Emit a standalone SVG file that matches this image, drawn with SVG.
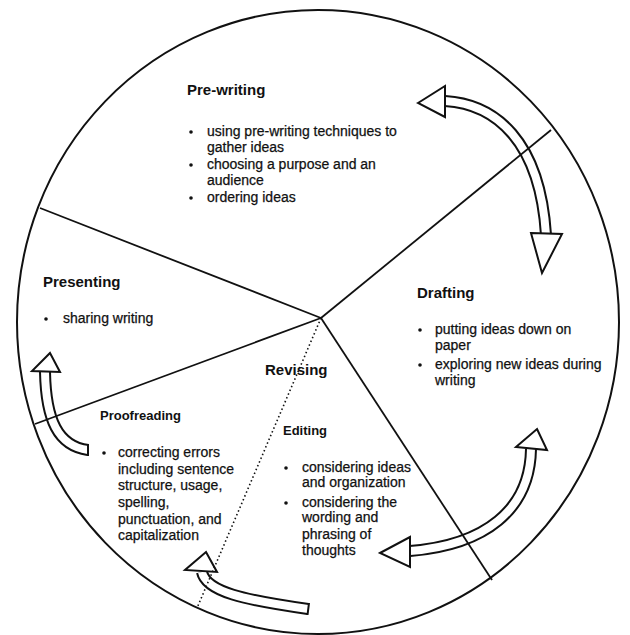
<svg xmlns="http://www.w3.org/2000/svg" width="630" height="635" viewBox="0 0 630 635">
  <style>
    .rim { fill: none; stroke: #111; stroke-width: 2; }
    .div { fill: none; stroke: #111; stroke-width: 1.8; }
    .dots { fill: none; stroke: #111; stroke-width: 1.6; stroke-dasharray: 1.5 2.6; }
    .shaft-out { fill: none; stroke: #111; stroke-width: 12; }
    .shaft-in { fill: none; stroke: #fff; stroke-width: 8; }
    .head { fill: #fff; stroke: #111; stroke-width: 2; stroke-linejoin: miter; }
    .cap { stroke: #111; stroke-width: 2; }
    .h1 { font-family: "Liberation Sans", Arial, sans-serif; font-weight: bold; font-size: 15px; fill: #111; }
    .h2 { font-family: "Liberation Sans", Arial, sans-serif; font-weight: bold; font-size: 13px; fill: #111; }
    .tx { font-family: "Liberation Sans", Arial, sans-serif; font-size: 14px; fill: #111; stroke: #111; stroke-width: 0.25; }
    .dot { fill: #111; }
  </style>
  <rect width="630" height="635" fill="#fff"/>

  <!-- arrows between the stages, drawn under the wheel lines -->
  <g id="connectors">
    <!-- pre-writing <-> drafting -->
    <path class="shaft-out" d="M 445 101 C 495 104, 540 140, 546 235"/>
    <path class="shaft-in" d="M 445 101 C 495 104, 540 140, 546 235"/>
    <polygon class="head" points="418,103 445,86 445,117"/>
    <polygon class="head" points="531,233 562,234 542,273"/>

    <!-- drafting <-> editing -->
    <path class="shaft-out" d="M 531 449 C 530 510, 485 545, 410 551"/>
    <path class="shaft-in" d="M 531 449 C 530 510, 485 545, 410 551"/>
    <polygon class="head" points="537,429 547,450 516,447"/>
    <polygon class="head" points="380,553 410,537 410,567"/>

    <!-- revising -> proofreading -->
    <path class="shaft-out" d="M 202 572 C 206 592, 245 600, 308 609"/>
    <path class="shaft-in" d="M 202 572 C 206 592, 245 600, 308 609"/>
    <line class="cap" x1="309" y1="603" x2="307.5" y2="615"/>
    <polygon class="head" points="206,552 217,572 185,570"/>

    <!-- proofreading -> presenting -->
    <path class="shaft-out" d="M 45 372 C 46 420, 58 446, 88 450"/>
    <path class="shaft-in" d="M 45 372 C 46 420, 58 446, 88 450"/>
    <line class="cap" x1="88" y1="444" x2="88" y2="456"/>
    <polygon class="head" points="50,353 60,372 32,371"/>
  </g>

  <!-- the wheel: rim and the dividers between stages -->
  <g id="wheel">
    <ellipse class="rim" cx="318" cy="322" rx="301" ry="312"/>
    <line class="div" x1="321" y1="318" x2="40" y2="208"/>
    <line class="div" x1="321" y1="318" x2="551" y2="130"/>
    <line class="div" x1="321" y1="318" x2="35" y2="424"/>
    <line class="div" x1="321" y1="318" x2="492" y2="580"/>
    <line class="dots" x1="321" y1="318" x2="197" y2="608"/>
  </g>

  <g id="prewriting">
    <text class="h1" x="187" y="95">Pre-writing</text>
    <circle class="dot" cx="191" cy="132" r="1.8"/>
    <text class="tx" x="207" y="136">using pre-writing techniques to</text>
    <text class="tx" x="207" y="152">gather ideas</text>
    <circle class="dot" cx="191" cy="165" r="1.8"/>
    <text class="tx" x="207" y="169">choosing a purpose and an</text>
    <text class="tx" x="207" y="185">audience</text>
    <circle class="dot" cx="191" cy="198" r="1.8"/>
    <text class="tx" x="207" y="202">ordering ideas</text>
  </g>

  <g id="drafting">
    <text class="h1" x="417" y="298">Drafting</text>
    <circle class="dot" cx="420" cy="330" r="1.8"/>
    <text class="tx" x="435" y="334">putting ideas down on</text>
    <text class="tx" x="435" y="350">paper</text>
    <circle class="dot" cx="420" cy="365" r="1.8"/>
    <text class="tx" x="435" y="369">exploring new ideas during</text>
    <text class="tx" x="435" y="385">writing</text>
  </g>

  <g id="presenting">
    <text class="h1" x="43" y="287">Presenting</text>
    <circle class="dot" cx="46" cy="319" r="1.8"/>
    <text class="tx" x="63" y="323">sharing writing</text>
  </g>

  <g id="revising">
    <text class="h1" x="265" y="375">Revising</text>
  </g>

  <g id="proofreading">
    <text class="h2" x="100" y="420">Proofreading</text>
    <circle class="dot" cx="104" cy="453" r="1.8"/>
    <text class="tx" x="118" y="457">correcting errors</text>
    <text class="tx" x="118" y="473.5">including sentence</text>
    <text class="tx" x="118" y="490">structure, usage,</text>
    <text class="tx" x="118" y="507">spelling,</text>
    <text class="tx" x="118" y="523.5">punctuation, and</text>
    <text class="tx" x="118" y="540">capitalization</text>
  </g>

  <g id="editing">
    <text class="h2" x="283" y="435">Editing</text>
    <circle class="dot" cx="286" cy="468" r="1.8"/>
    <text class="tx" x="302" y="472">considering ideas</text>
    <text class="tx" x="302" y="487">and organization</text>
    <circle class="dot" cx="286" cy="503" r="1.8"/>
    <text class="tx" x="302" y="507">considering the</text>
    <text class="tx" x="302" y="522">wording and</text>
    <text class="tx" x="302" y="539">phrasing of</text>
    <text class="tx" x="302" y="555">thoughts</text>
  </g>
</svg>
